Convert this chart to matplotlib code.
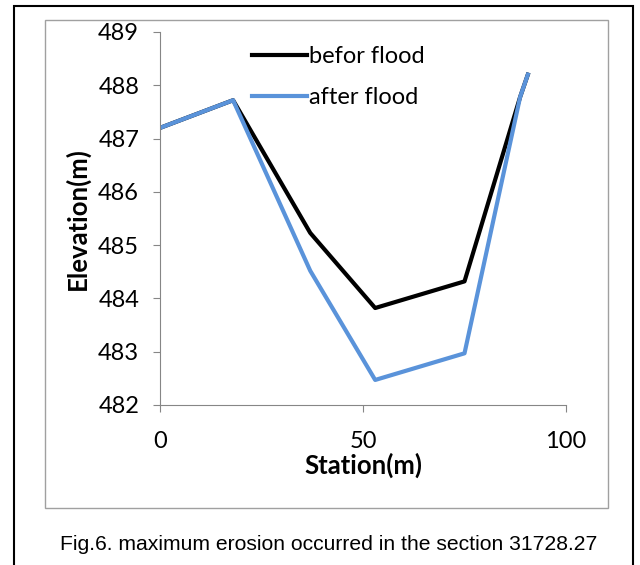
import matplotlib.pyplot as plt
from matplotlib.patches import Rectangle

# Data
station_before = [0, 18, 37, 53, 75, 88.7, 90.6]
elev_before = [487.2, 487.72, 485.23, 483.82, 484.32, 487.78, 488.2]
station_after = [0, 18, 37, 53, 75, 88.7, 90.6]
elev_after = [487.2, 487.72, 484.52, 482.47, 482.97, 487.78, 488.2]

fig = plt.figure(figsize=(6.4, 5.65), dpi=100)

# outer black frame and inner grey chart frame
fig.patches.append(Rectangle((14/640, -0.01), 619/640, 1 - 6/565 + 0.01, transform=fig.transFigure,
                             fill=False, edgecolor='black', linewidth=1.5))
fig.patches.append(Rectangle((45/640, 1 - 508/565), 563/640, 488/565, transform=fig.transFigure,
                             fill=False, edgecolor='#a0a0a0', linewidth=1))

ax = fig.add_axes([160/640, 1 - 405/565, 406/640, 373/565])
ax.plot(station_before, elev_before, color='black', linewidth=3, label='befor flood')
ax.plot(station_after, elev_after, color='#5A93DA', linewidth=3, label='after flood')

ax.set_xlim(0, 100)
ax.set_ylim(482, 489)
ax.set_xticks([0, 50, 100])
ax.set_yticks(range(482, 490))

for s in ['top', 'right']:
    ax.spines[s].set_visible(False)
for s in ['left', 'bottom']:
    ax.spines[s].set_color('#868686')
ax.tick_params(colors='#868686', labelcolor='black', length=5, labelsize=17)
ax.tick_params(axis='y', pad=10)
ax.tick_params(axis='x', pad=14)
for lab in ax.get_xticklabels() + ax.get_yticklabels():
    lab.set_family('Lato')

ax.set_xlabel('Station(m)', fontsize=18.5, fontweight='bold', family='Lato', labelpad=0)
ax.set_ylabel('Elevation(m)', fontsize=18.5, fontweight='bold', family='Lato', labelpad=6)

ax.legend(loc='upper left', bbox_to_anchor=(0.175, 1.02), frameon=False, handlelength=2.3,
          handletextpad=0.1, labelspacing=0.85, prop={'family': 'Lato', 'size': 17})

fig.text(329/640, 1 - 545/565, 'Fig.6. maximum erosion occurred in the section 31728.27',
         ha='center', va='center', fontsize=15.2, family='Liberation Sans')

plt.savefig('out.png', dpi=100)
